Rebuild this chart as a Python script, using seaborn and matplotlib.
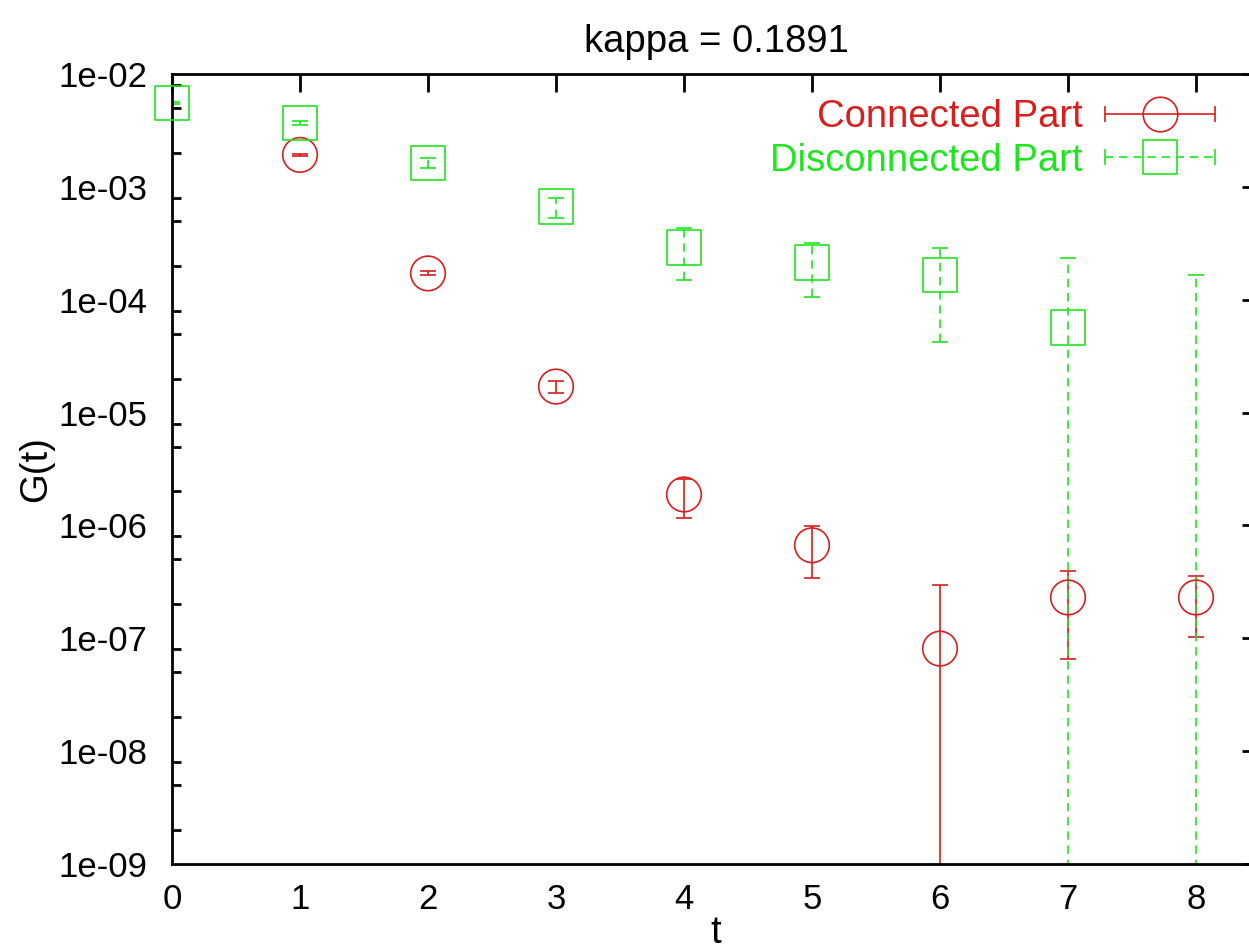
import numpy as np
import matplotlib
matplotlib.use("Agg")
import matplotlib.pyplot as plt
import seaborn as sns
from matplotlib.lines import Line2D
from matplotlib.legend_handler import HandlerLine2D, HandlerTuple
from matplotlib.ticker import FixedLocator

# ---- data ----
t_conn = [1, 2, 3, 4, 5, 6, 7, 8]
conn_val = [1.92e-3, 1.71e-4, 1.70e-5, 1.88e-6, 6.67e-7, 8.1e-8, 2.30e-7, 2.30e-7]
conn_err = [2.5e-5, 7e-6, 2.2e-6, 7.2e-7, 3.23e-7, 2.16e-7, 1.65e-7, 1.27e-7]

t_disc = [0, 1, 2, 3, 4, 5, 6, 7, 8]
disc_val = [5.55e-3, 3.69e-3, 1.63e-3, 6.68e-4, 2.91e-4, 2.13e-4, 1.66e-4, 5.7e-5, -3e-5]
disc_err = [1.5e-4, 1.3e-4, 1.56e-4, 1.35e-4, 1.43e-4, 1.08e-4, 1.24e-4, 1.79e-4, 1.97e-4]

x_ticks = [0, 1, 2, 3, 4, 5, 6, 7, 8]
y_ticks = [1e-9, 1e-8, 1e-7, 1e-6, 1e-5, 1e-4, 1e-3, 1e-2]
y_ticklabels = ["1e-09", "1e-08", "1e-07", "1e-06", "1e-05", "1e-04", "1e-03", "1e-02"]
minor_mult = [2, 5, 8]

title = "kappa = 0.1891"
xlabel = "t"
ylabel = "G(t)"
label_conn = "Connected Part"
label_disc = "Disconnected Part"

RED = "#d81e1e"
GREEN = "#1ee61e"

sns.set_theme(style="white")
plt.rcParams["font.family"] = ["Liberation Sans", "DejaVu Sans"]
plt.rcParams["text.color"] = "black"
plt.rcParams["axes.labelcolor"] = "black"
FS_TICK = 25
FS_TXT = 27.5

fig = plt.figure(figsize=(12.49, 9.52), dpi=100)
ax = fig.add_axes([172 / 1249, 1 - 864 / 952, (1260 - 172) / 1249, (864 - 74) / 952])
ax.set_yscale("log")
ax.set_xlim(0, 8.5)
ax.set_ylim(1e-9, 1e-2)

lw = 1.2
dash = (5, 3.5)
msize = 620

# error bars (clipped)
e1 = ax.errorbar(t_conn, conn_val, yerr=conn_err, fmt="none", ecolor=RED,
                 elinewidth=lw, capsize=6, capthick=lw, zorder=2)
e2 = ax.errorbar(t_disc, disc_val, yerr=disc_err, fmt="none", ecolor=GREEN,
                 elinewidth=lw, capsize=6, capthick=lw, zorder=2.5)
for lc in e2[2]:
    lc.set_linestyle((0, dash))

# markers (not clipped, positive only)
cx = [t for t, v in zip(t_conn, conn_val) if v > 0]
cy = [v for v in conn_val if v > 0]
dx = [t for t, v in zip(t_disc, disc_val) if v > 0]
dy = [v for v in disc_val if v > 0]
sns.scatterplot(x=cx, y=cy, marker="o", s=msize, facecolor="none", edgecolor=RED,
                linewidth=lw, ax=ax, clip_on=False, zorder=3)
sns.scatterplot(x=dx, y=dy, marker="s", s=msize, facecolor="none", edgecolor=GREEN,
                linewidth=lw, ax=ax, clip_on=False, zorder=3.5)

# ticks
ax.xaxis.set_major_locator(FixedLocator(x_ticks))
ax.set_xticklabels([str(v) for v in x_ticks])
ax.yaxis.set_major_locator(FixedLocator(y_ticks))
ax.set_yticklabels(y_ticklabels)
minor_pos = [m * d for d in y_ticks[:-1] for m in minor_mult]
ax.yaxis.set_minor_locator(FixedLocator(minor_pos))
ax.yaxis.set_minor_formatter(plt.NullFormatter())
ax.xaxis.set_minor_locator(FixedLocator([]))
ax.tick_params(which="both", direction="in", top=True, right=True, width=2,
               color="black", labelsize=FS_TICK, labelcolor="black")
ax.tick_params(which="major", length=13)
ax.tick_params(axis="y", which="minor", length=6.5, width=2, left=True, right=True)
ax.tick_params(axis="y", which="major", pad=18)
ax.tick_params(axis="x", which="major", pad=14)
for sp in ax.spines.values():
    sp.set_linewidth(2)
    sp.set_color("black")

ax.set_title(title, fontsize=FS_TXT, pad=16, color="black")
ax.set_xlabel(xlabel, fontsize=FS_TXT, labelpad=-1)
ax.set_ylabel(ylabel, fontsize=FS_TXT, labelpad=3)

# legend with gnuplot-like samples
mk = np.sqrt(msize)
cap_r = Line2D([], [], color=RED, lw=lw, marker="|", markersize=12, markeredgewidth=lw)
mk_r = Line2D([], [], color=RED, lw=0, marker="o", markersize=mk,
              markerfacecolor="none", markeredgewidth=lw)
cap_g = Line2D([], [], color=GREEN, lw=lw, linestyle=(0, dash), marker="|",
               markersize=12, markeredgewidth=lw)
mk_g = Line2D([], [], color=GREEN, lw=0, marker="s", markersize=mk,
              markerfacecolor="none", markeredgewidth=lw)
hmap = {cap_r: HandlerLine2D(numpoints=2, marker_pad=0),
        cap_g: HandlerLine2D(numpoints=2, marker_pad=0),
        mk_r: HandlerLine2D(numpoints=1), mk_g: HandlerLine2D(numpoints=1),
        tuple: HandlerTuple(ndivide=1)}
leg = ax.legend([(cap_r, mk_r), (cap_g, mk_g)], [label_conn, label_disc],
                handler_map=hmap, loc="upper right", markerfirst=False,
                frameon=False, fontsize=FS_TXT, handlelength=2.88, handletextpad=0.58,
                labelspacing=0.2, borderpad=0, borderaxespad=0,
                bbox_to_anchor=(1215 / 1249, 1 - 99 / 952),
                bbox_transform=fig.transFigure)
leg.get_texts()[0].set_color(RED)
leg.get_texts()[1].set_color(GREEN)

fig.savefig("out.png", dpi=100)
